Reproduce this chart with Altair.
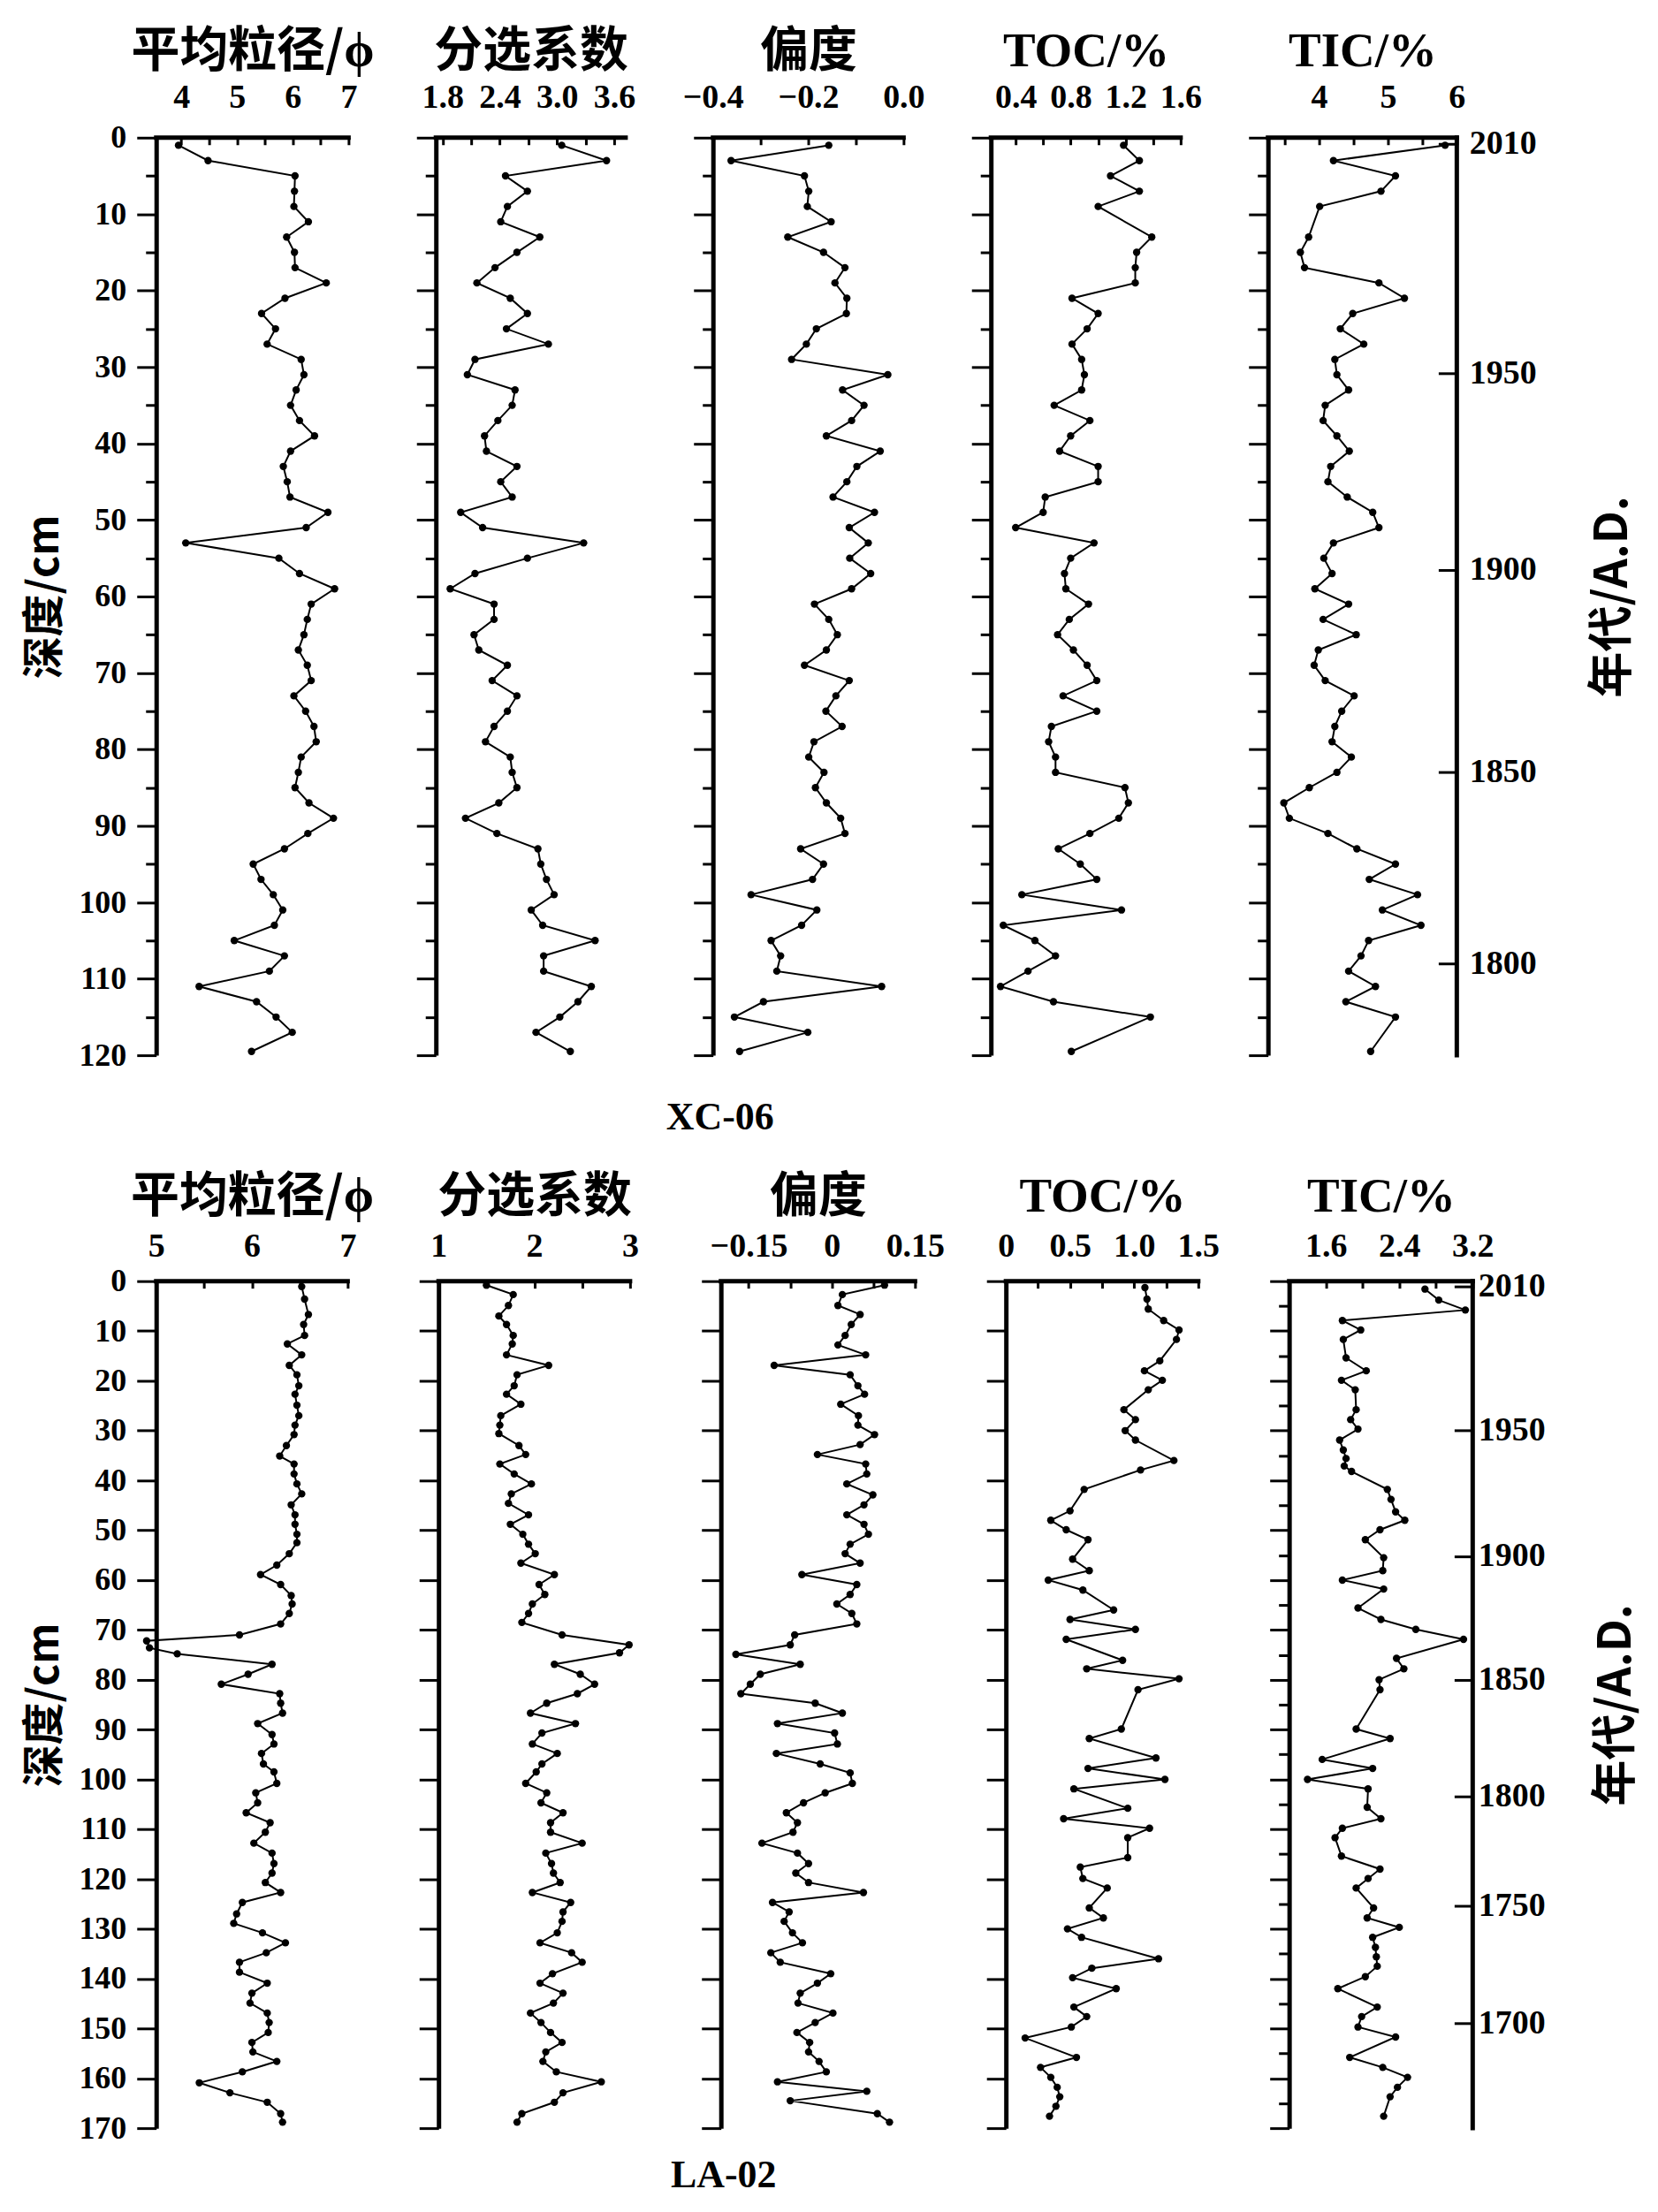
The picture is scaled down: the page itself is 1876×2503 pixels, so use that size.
import json
import altair as alt
import pandas as pd

SERIF = "Liberation Serif"
CJK = "Noto Sans CJK SC"

# ---------------- XC-06 (upper row) ----------------
xc_depth = [1, 3, 5, 7, 9, 11, 13, 15, 17, 19, 21, 23, 25, 27, 29, 31, 33, 35, 37, 39,
            41, 43, 45, 47, 49, 51, 53, 55, 57, 59, 61, 63, 65, 67, 69, 71, 73, 75, 77, 79,
            81, 83, 85, 87, 89, 91, 93, 95, 97, 99, 101, 103, 105, 107, 109, 111, 113, 115, 117, 119.5]
xc_grain = [3.95, 4.48, 6.04, 6.03, 6.02, 6.28, 5.89, 6.03, 6.04, 6.60, 5.86, 5.44, 5.69, 5.54, 6.15,
            6.20, 6.06, 5.96, 6.12, 6.39, 5.96, 5.83, 5.90, 5.95, 6.63, 6.24, 4.08, 5.75, 6.12, 6.75,
            6.33, 6.26, 6.20, 6.10, 6.26, 6.33, 6.02, 6.23, 6.38, 6.42, 6.15, 6.10, 6.04, 6.29, 6.73,
            6.27, 5.85, 5.29, 5.43, 5.65, 5.82, 5.67, 4.95, 5.85, 5.58, 4.32, 5.35, 5.70, 5.99, 5.26]
xc_sort = [3.05, 3.52, 2.46, 2.69, 2.48, 2.41, 2.82, 2.58, 2.35, 2.16, 2.51, 2.69, 2.47, 2.91, 2.14,
           2.06, 2.56, 2.53, 2.38, 2.24, 2.26, 2.58, 2.41, 2.53, 1.99, 2.22, 3.28, 2.69, 2.14, 1.88,
           2.34, 2.34, 2.13, 2.18, 2.48, 2.32, 2.58, 2.48, 2.34, 2.25, 2.51, 2.53, 2.58, 2.39, 2.04,
           2.37, 2.80, 2.83, 2.89, 2.97, 2.73, 2.85, 3.40, 2.86, 2.86, 3.36, 3.22, 3.03, 2.78, 3.14]
xc_skew = [-0.157, -0.362, -0.208, -0.199, -0.202, -0.152, -0.243, -0.168, -0.123, -0.144,
           -0.119, -0.120, -0.183, -0.204, -0.235, -0.033, -0.128, -0.083, -0.109, -0.162,
           -0.049, -0.098, -0.119, -0.148, -0.061, -0.114, -0.074, -0.113, -0.069, -0.109,
           -0.187, -0.157, -0.139, -0.162, -0.208, -0.114, -0.142, -0.163, -0.129, -0.188,
           -0.199, -0.167, -0.185, -0.162, -0.132, -0.123, -0.216, -0.168, -0.191, -0.320,
           -0.182, -0.214, -0.278, -0.258, -0.266, -0.046, -0.294, -0.355, -0.201, -0.344]
xc_c_depth = [1, 3, 5, 7, 9, 13, 15, 17, 19, 21, 23, 25, 27, 29, 31, 33, 35, 37, 39, 41,
              43, 45, 47, 49, 51, 53, 55, 57, 59, 61, 63, 65, 67, 69, 71, 73, 75, 77, 79, 81,
              83, 85, 87, 89, 91, 93, 95, 97, 99, 101, 103, 105, 107, 109, 111, 113, 115, 119.5]
xc_toc = [1.185, 1.30, 1.09, 1.30, 1.00, 1.39, 1.28, 1.27, 1.27, 0.81, 1.00, 0.92, 0.81, 0.88, 0.90,
          0.88, 0.68, 0.94, 0.80, 0.72, 1.00, 1.00, 0.615, 0.60, 0.40, 0.97, 0.80, 0.755, 0.765, 0.93,
          0.79, 0.705, 0.82, 0.92, 0.99, 0.745, 0.99, 0.66, 0.64, 0.69, 0.69, 1.195, 1.22, 1.15, 0.94,
          0.71, 0.87, 0.99, 0.445, 1.17, 0.31, 0.54, 0.69, 0.49, 0.29, 0.675, 1.38, 0.805]
xc_tic = [5.83, 4.21, 5.11, 4.90, 4.01, 3.85, 3.73, 3.79, 4.87, 5.24, 4.49, 4.31, 4.65, 4.23, 4.26,
          4.43, 4.09, 4.06, 4.26, 4.44, 4.17, 4.13, 4.41, 4.78, 4.87, 4.21, 4.07, 4.19, 3.94, 4.43,
          4.06, 4.54, 3.99, 3.93, 4.09, 4.51, 4.33, 4.23, 4.19, 4.47, 4.26, 3.86, 3.49, 3.57, 4.13,
          4.55, 5.11, 4.73, 5.43, 4.92, 5.48, 4.72, 4.61, 4.43, 4.82, 4.39, 5.11, 4.75]
xc_year_depth = [0.8, 30.8, 56.5, 83.0, 108.0]
xc_year_label = ["2010", "1950", "1900", "1850", "1800"]

# ---------------- LA-02 (lower row) ----------------
la_grain_d = [1.1, 3.6, 6.7, 8.7, 10.9, 12.6, 14.8, 16.9, 18.8, 21.0, 22.7, 24.9, 27.0, 28.9, 30.8,
              33.0, 35.1, 36.7, 38.7, 40.7, 42.7, 44.9, 46.9, 48.8, 50.8, 52.5, 54.7, 57.0, 58.9, 60.9,
              63.1, 64.8, 66.7, 68.8, 71.0, 72.2, 73.6, 74.8, 76.9, 78.9, 80.9, 82.8, 84.7, 86.7, 88.8,
              91.0, 92.9, 94.8, 96.9, 98.5, 100.8, 102.7, 104.7, 106.7, 108.7, 110.6, 112.8, 114.8,
              116.9, 118.8, 120.7, 122.7, 124.7, 127.0, 128.9, 130.8, 132.8, 134.8, 136.7, 138.7,
              140.9, 142.9, 144.9, 146.9, 148.8, 150.8, 152.8, 154.7, 156.6, 158.7, 160.9, 162.9,
              164.8, 167.1, 168.8]
la_grain = [6.52, 6.55, 6.59, 6.54, 6.55, 6.37, 6.52, 6.39, 6.47, 6.49, 6.45, 6.47, 6.49, 6.45, 6.44,
            6.36, 6.29, 6.44, 6.44, 6.47, 6.52, 6.41, 6.45, 6.45, 6.47, 6.47, 6.39, 6.26, 6.09, 6.30,
            6.41, 6.42, 6.39, 6.30, 5.87, 4.90, 4.93, 5.22, 6.21, 5.96, 5.68, 6.29, 6.30, 6.32, 6.06,
            6.21, 6.23, 6.10, 6.12, 6.23, 6.26, 6.04, 6.06, 5.94, 6.19, 6.14, 6.02, 6.21, 6.23, 6.21,
            6.14, 6.30, 5.90, 5.84, 5.81, 6.11, 6.35, 6.15, 5.87, 5.87, 6.16, 6.00, 5.98, 6.16, 6.18,
            6.17, 6.00, 6.01, 6.26, 5.90, 5.45, 5.77, 6.16, 6.30, 6.32]
la_sort_d = [0.8, 2.7, 4.9, 7.0, 8.7, 10.9, 12.6, 14.8, 16.9, 18.8, 21.0, 22.7, 24.7, 27.0, 28.9,
             30.6, 33.0, 34.8, 36.7, 38.7, 40.7, 42.7, 44.6, 46.9, 48.8, 50.8, 52.8, 54.7, 56.6, 58.9,
             60.9, 62.9, 64.8, 66.7, 68.5, 71.0, 73.0, 74.6, 76.9, 78.9, 80.9, 82.8, 84.7, 86.7, 88.8,
             90.7, 92.9, 94.8, 96.9, 98.5, 100.8, 102.7, 104.7, 106.7, 108.7, 110.6, 112.8, 114.8,
             116.9, 118.8, 120.7, 122.7, 124.7, 126.6, 128.5, 130.8, 132.8, 134.8, 136.7, 139.0,
             140.9, 142.9, 144.9, 146.9, 148.8, 150.8, 152.8, 154.7, 156.6, 158.7, 160.7, 162.9,
             164.8, 167.1, 168.8]
la_sort = [1.50, 1.78, 1.73, 1.63, 1.71, 1.78, 1.77, 1.71, 2.15, 1.82, 1.79, 1.71, 1.86, 1.65, 1.64,
           1.63, 1.84, 1.91, 1.64, 1.79, 1.97, 1.76, 1.73, 1.94, 1.75, 1.88, 1.94, 2.01, 1.86, 2.21,
           2.05, 2.11, 1.98, 1.94, 1.87, 2.29, 2.99, 2.89, 2.21, 2.48, 2.63, 2.45, 2.13, 1.96, 2.43,
           2.08, 1.98, 2.24, 2.08, 2.02, 1.91, 2.13, 2.07, 2.30, 2.17, 2.17, 2.50, 2.12, 2.18, 2.20,
           2.27, 1.98, 2.38, 2.30, 2.29, 2.24, 2.06, 2.39, 2.50, 2.19, 2.06, 2.30, 2.20, 1.96, 2.07,
           2.17, 2.29, 2.12, 2.09, 2.23, 2.70, 2.30, 2.21, 1.87, 1.82]
la_skew_d = [0.8, 2.7, 4.9, 6.7, 8.7, 10.9, 12.8, 14.8, 16.9, 18.8, 21.0, 22.7, 24.7, 27.0, 28.9,
             30.8, 32.8, 34.8, 36.7, 38.7, 40.7, 42.9, 44.9, 46.9, 48.8, 50.8, 52.8, 54.7, 56.6, 58.9,
             60.9, 62.9, 64.8, 66.7, 68.8, 71.0, 73.0, 74.9, 76.9, 78.9, 80.9, 82.8, 84.7, 86.7, 88.8,
             90.7, 92.9, 94.8, 96.9, 98.7, 100.8, 102.7, 104.7, 106.7, 108.7, 110.6, 112.8, 114.8,
             116.9, 118.8, 120.7, 122.7, 124.7, 126.6, 128.5, 130.8, 132.8, 134.8, 136.7, 139.0,
             140.9, 142.9, 144.9, 146.9, 148.8, 150.8, 152.8, 154.7, 156.6, 158.7, 160.7, 162.6,
             164.5, 167.1, 168.8]
la_skew = [0.095, 0.019, 0.011, 0.051, 0.035, 0.024, 0.011, 0.061, -0.104, 0.033,
           0.047, 0.059, 0.016, 0.048, 0.047, 0.077, 0.051, -0.026, 0.061, 0.063,
           0.027, 0.074, 0.058, 0.027, 0.058, 0.066, 0.033, 0.024, 0.051, -0.054,
           0.045, 0.033, 0.009, 0.036, 0.045, -0.067, -0.075, -0.173, -0.057, -0.129,
           -0.147, -0.164, -0.030, 0.019, -0.098, 0.005, 0.010, -0.100, -0.021, 0.033,
           0.037, -0.012, -0.051, -0.082, -0.062, -0.070, -0.126, -0.062, -0.042, -0.065,
           -0.042, 0.057, -0.107, -0.077, -0.086, -0.071, -0.053, -0.110, -0.093, -0.002,
           -0.026, -0.057, -0.061, 0.002, -0.030, -0.063, -0.040, -0.042, -0.023, -0.010,
           -0.098, 0.063, -0.075, 0.082, 0.104]
la_toc_d = [1.3, 3.6, 5.6, 7.9, 9.8, 11.7, 16.0, 18.0, 19.9, 21.8, 25.8, 27.8, 30.0, 31.9, 36.0,
            37.9, 41.8, 46.1, 48.0, 49.9, 51.9, 55.8, 58.1, 60.0, 62.0, 66.0, 67.9, 69.9, 71.9, 76.1,
            77.8, 79.8, 82.0, 89.9, 91.8, 95.7, 97.8, 100.0, 101.9, 105.8, 107.9, 109.8, 111.7, 115.7,
            117.6, 119.9, 121.8, 125.8, 127.8, 130.0, 131.7, 136.0, 137.9, 139.8, 142.0, 145.7, 147.6,
            149.7, 151.9, 155.8, 157.8, 159.8, 161.8, 163.7, 165.6, 167.6]
la_toc = [1.084, 1.10, 1.11, 1.23, 1.35, 1.33, 1.20, 1.08, 1.22, 1.11, 0.92, 1.01, 0.93, 1.01, 1.31,
          1.05, 0.61, 0.50, 0.35, 0.47, 0.64, 0.52, 0.65, 0.33, 0.60, 0.84, 0.50, 1.01, 0.47, 0.91,
          0.63, 1.35, 1.03, 0.90, 0.65, 1.17, 0.64, 1.24, 0.53, 0.95, 0.45, 1.12, 0.95, 0.95, 0.58,
          0.60, 0.79, 0.65, 0.76, 0.48, 0.59, 1.19, 0.67, 0.52, 0.86, 0.53, 0.63, 0.51, 0.15, 0.55,
          0.27, 0.35, 0.40, 0.42, 0.39, 0.34]
la_tic_d = [1.6, 3.8, 5.8, 7.9, 9.8, 11.7, 15.4, 18.0, 19.9, 21.8, 25.8, 27.8, 29.7, 31.9, 33.9,
            35.6, 37.1, 38.2, 41.8, 43.8, 46.3, 48.0, 49.9, 51.9, 55.5, 58.1, 60.0, 61.8, 65.6, 67.9,
            69.9, 71.9, 75.7, 77.8, 80.0, 82.0, 89.9, 91.8, 96.0, 97.8, 100.0, 101.9, 105.6, 107.9,
            109.8, 111.7, 115.4, 118.0, 119.9, 121.8, 125.8, 127.8, 129.7, 131.7, 133.7, 135.6, 137.5,
            139.6, 142.0, 145.7, 147.6, 149.7, 151.7, 155.8, 157.8, 159.8, 161.8, 163.7, 167.6]
la_tic = [2.68, 2.83, 3.12, 1.78, 1.98, 1.79, 1.82, 2.04, 1.77, 1.92, 1.93, 1.87, 1.95, 1.75, 1.79,
          1.82, 1.80, 1.88, 2.27, 2.31, 2.36, 2.46, 2.19, 2.03, 2.23, 2.22, 1.78, 2.23, 1.95, 2.20,
          2.58, 3.10, 2.37, 2.45, 2.18, 2.19, 1.93, 2.30, 1.56, 2.11, 1.40, 2.06, 2.05, 2.20, 1.78,
          1.70, 1.77, 2.19, 2.06, 1.93, 2.12, 2.05, 2.40, 2.11, 2.14, 2.15, 2.16, 2.03, 1.73, 2.16,
          1.99, 1.95, 2.36, 1.86, 2.22, 2.49, 2.38, 2.30, 2.23]
la_year_depth = [1.0, 29.9, 55.2, 80.0, 103.4, 125.3, 149.0]
la_year_label = ["2010", "1950", "1900", "1850", "1800", "1750", "1700"]

titles = ["平均粒径/ϕ", "分选系数", "偏度", "TOC/%", "TIC/%"]
title_fonts = [CJK, CJK, CJK, SERIF, SERIF]


def label_expr(vals, labels):
    v = json.dumps(vals)
    l = json.dumps(labels, ensure_ascii=False)
    return f"indexof({v}, datum.value) >= 0 ? {l}[indexof({v}, datum.value)] : ''"


def panel(depth, vals, xdom, xmaj, xlab, xmin_, idx, W, H, ymax,
          yr_d=None, yr_l=None, yr_title_x=197, yr_lp=14, tag=None, tag_xy=None, lp_x=22,
          title_y=-106, depth_title_x=-125):
    n = min(len(depth), len(vals))
    df = pd.DataFrame({"depth": depth[:n], "value": vals[:n]})
    ysc = alt.Scale(domain=[0, ymax], reverse=True, nice=False, zero=False)
    xsc = alt.Scale(domain=xdom, nice=False, zero=False)
    xaxis = alt.Axis(
        orient="top", values=sorted(xmaj + xmin_), labelExpr=label_expr(xmaj, xlab),
        domain=False, ticks=True, tickSize=8, tickWidth=3, tickColor="black", offset=-8,
        labelFont=SERIF, labelFontSize=38, labelFontWeight="bold", labelColor="black",
        labelPadding=lp_x, labelFlush=False, labelOverlap=False, labelAngle=0, grid=False,
        title=titles[idx], titleFont=title_fonts[idx], titleFontSize=55, titleFontWeight="bold",
        titleColor="black", titleY=title_y, titleBaseline="middle", titleLimit=1000)
    ykw = dict(
        orient="left", values=list(range(0, ymax + 1, 5)), labels=(idx == 0),
        labelExpr="datum.value % 10 === 0 ? datum.label : ''",
        tickSize={"condition": {"test": "datum.value % 10 === 0", "value": 22}, "value": 12},
        tickWidth=3, tickColor="black", domainWidth=5, domainColor="black",
        labelFont=SERIF, labelFontSize=36, labelFontWeight="bold", labelColor="black",
        labelPadding=12, grid=False)
    if idx == 0:
        ykw.update(title="深度/cm", titleFont=CJK, titleFontSize=48, titleFontWeight="bold",
                   titleColor="black", titleAngle=270, titleX=depth_title_x, titleY=H / 2,
                   titleBaseline="middle", titleAlign="center", titleLimit=1000)
    else:
        ykw.update(title="")
    independent = yr_d is not None
    line = alt.Chart(df).mark_line(
        color="black", strokeWidth=2,
        point=alt.OverlayMarkDef(filled=True, color="black", size=70, opacity=1)
    ).encode(
        x=alt.X("value:Q", scale=xsc, axis=xaxis),
        y=alt.Y("depth:Q", scale=ysc, axis=alt.Axis(**ykw)),
        order=alt.Order("depth:Q"),
    )
    if independent:
        ty = alt.Y("depth:Q", scale=ysc, axis=None)
    else:
        ty = alt.Y("depth:Q", scale=ysc)
    top_rule = alt.Chart(pd.DataFrame({"depth": [0]})).mark_rule(
        color="black", strokeWidth=5, strokeCap="square"
    ).encode(y=ty)
    layers = [line, top_rule]
    if independent:
        right_rule = alt.Chart(pd.DataFrame({"value": [xdom[1]]})).mark_rule(
            color="black", strokeWidth=5, strokeCap="square"
        ).encode(x=alt.X("value:Q", scale=xsc))
        yr = alt.Chart(pd.DataFrame({"depth": yr_d})).mark_point(opacity=0).encode(
            y=alt.Y("depth:Q", scale=ysc, axis=alt.Axis(
                orient="right", values=yr_d, labelExpr=label_expr(yr_d, yr_l),
                domain=False, tickSize=21, offset=-21, tickWidth=3, tickColor="black",
                labelFont=SERIF, labelFontSize=38, labelFontWeight="bold", labelColor="black",
                labelPadding=yr_lp, labelBaseline="middle", grid=False,
                title="年代/A.D.", titleFont=CJK, titleFontSize=52, titleFontWeight="bold",
                titleColor="black", titleAngle=270, titleX=yr_title_x, titleY=H / 2,
                titleBaseline="middle", titleAlign="center", titleLimit=1000)))
        layers += [right_rule, yr]
    if tag is not None:
        t = alt.Chart(pd.DataFrame({"t": [tag]})).mark_text(
            font=SERIF, fontSize=44, fontWeight="bold", color="black",
            align="center", baseline="middle"
        ).encode(text="t:N", x=alt.value(tag_xy[0]), y=alt.value(tag_xy[1]))
        layers.append(t)
    ch = alt.layer(*layers).properties(width=W, height=H)
    if independent:
        ch = ch.resolve_axis(y="independent")
    return ch


HT = 1040
top_specs = [
    (xc_depth, xc_grain, [3.55, 7.0], [4, 5, 6, 7], ["4", "5", "6", "7"], [4.5, 5.5, 6.5], 218),
    (xc_depth, xc_sort, [1.73, 3.72], [1.8, 2.4, 3.0, 3.6], ["1.8", "2.4", "3.0", "3.6"], [2.1, 2.7, 3.3], 215),
    (xc_depth, xc_skew, [-0.4, 0.0], [-0.4, -0.2, 0.0], ["−0.4", "−0.2", "0.0"], [-0.3, -0.1], 216),
    (xc_c_depth, xc_toc, [0.22, 1.6], [0.4, 0.8, 1.2, 1.6], ["0.4", "0.8", "1.2", "1.6"], [0.6, 1.0, 1.4], 215),
    (xc_c_depth, xc_tic, [3.26, 6.0], [4, 5, 6], ["4", "5", "6"], [3.5, 4.5, 5.5], 214),
]
top_panels = []
for i, (d, v, dom, mj, lb, mn, w) in enumerate(top_specs):
    kw = {}
    if i == 4:
        kw.update(yr_d=xc_year_depth, yr_l=xc_year_label, yr_title_x=197, yr_lp=14)
    if i == 2:
        kw.update(tag="XC-06", tag_xy=(8, HT + 71))
    top_panels.append(panel(d, v, dom, mj, lb, mn, i, w, HT, 120, lp_x=26, title_y=-106, **kw))

HB = 960
bot_specs = [
    (la_grain_d, la_grain, [5.0, 7.0], [5, 6, 7], ["5", "6", "7"], [5.5, 6.5], 217),
    (la_sort_d, la_sort, [1.0, 3.0], [1, 2, 3], ["1", "2", "3"], [1.5, 2.5], 217),
    (la_skew_d, la_skew, [-0.2, 0.15], [-0.15, 0, 0.15], ["−0.15", "0", "0.15"], [-0.075, 0.075], 220),
    (la_toc_d, la_toc, [0.0, 1.5], [0, 0.5, 1.0, 1.5], ["0", "0.5", "1.0", "1.5"], [0.25, 0.75, 1.25], 218),
    (la_tic_d, la_tic, [1.2, 3.2], [1.6, 2.4, 3.2], ["1.6", "2.4", "3.2"], [2.0, 2.8], 208),
]
bot_panels = []
for i, (d, v, dom, mj, lb, mn, w) in enumerate(bot_specs):
    kw = {}
    if i == 4:
        kw.update(yr_d=la_year_depth, yr_l=la_year_label, yr_title_x=183, yr_lp=6)
    if i == 2:
        kw.update(tag="LA-02", tag_xy=(3, HB + 54))
    bot_panels.append(panel(d, v, dom, mj, lb, mn, i, w, HB, 170, lp_x=20, title_y=-104, **kw))

top = alt.hconcat(*top_panels, spacing=99, bounds="flush")
bot = alt.hconcat(*bot_panels, spacing=103, bounds="flush")

chart = alt.vconcat(top, bot, spacing=40).properties(
    padding={"left": 20, "top": 21, "right": 14, "bottom": 0}
).configure_view(stroke=None)

chart.save("out.html", embed_options={"renderer": "svg", "actions": False})
